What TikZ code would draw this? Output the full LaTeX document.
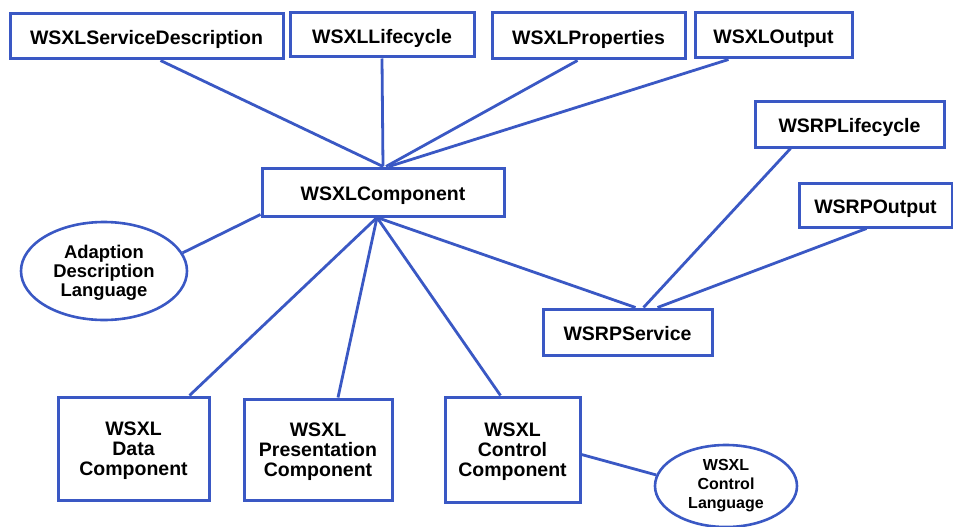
\documentclass[tikz,border=0pt]{standalone}
\usepackage{fontspec}
\setmainfont{Liberation Sans}
\usetikzlibrary{shapes.geometric}
\definecolor{linkblue}{RGB}{58,88,196}
\tikzset{
  x=1pt, y=-1pt,
  box/.style={draw=linkblue, line width=3pt, fill=white, rectangle, inner sep=0pt,
              align=center, font=\fontsize{19.5}{20}\selectfont\bfseries, text=black},
  onebox/.style={box, text height=19pt, text depth=2pt},
  tribox/.style={box, text depth=-2pt},
  oval/.style={draw=linkblue, line width=2.6pt, fill=white, ellipse, inner sep=0pt,
              align=center, text=black},
  link/.style={draw=linkblue, line width=2.8pt}
}
\begin{document}
\begin{tikzpicture}
\useasboundingbox (0,0) rectangle (953,527);

% nodes
\node[onebox, minimum width=273, minimum height=45] (sd)   at (146.5,36.5) {WSXLServiceDescription};
\node[onebox, minimum width=184, minimum height=44] (lc)   at (382,35)     {WSXLLifecycle};
\node[onebox, minimum width=193, minimum height=46] (prop) at (588.5,36)   {WSXLProperties};
\node[onebox, minimum width=157, minimum height=45] (out)  at (773.5,35.5) {WSXLOutput};
\node[onebox, minimum width=189, minimum height=46] (rlc)  at (849.5,124)  {WSRPLifecycle};
\node[onebox, minimum width=153, minimum height=44] (rout) at (875.5,205)  {WSRPOutput};
\node[onebox, minimum width=242, minimum height=48] (comp) at (383,192)    {WSXLComponent};
\node[onebox, minimum width=169, minimum height=46] (wsrp) at (627.5,332)  {WSRPService};
\node[tribox, minimum width=151, minimum height=103] (data) at (133.5,448.5) {WSXL\\Data\\Component};
\node[tribox, minimum width=148, minimum height=101] (pres) at (318,449.5)  {WSXL\\Presentation\\Component};
\node[tribox, minimum width=135, minimum height=105] (ctrl) at (512.5,449.5) {WSXL\\Control\\Component};
\node[oval, minimum width=166, minimum height=98, text depth=-3pt,
      font=\fontsize{18.4}{19}\selectfont\bfseries]
  (adl) at (104,271) {Adaption\\Description\\Language};
\node[oval, minimum width=142, minimum height=82, font=\fontsize{16}{19}\selectfont\bfseries]
  (cl)  at (726,486) {WSXL\\Control\\Language};

% links into the component box
\draw[link] ([xshift=14]sd.south)    -- (comp.north);
\draw[link] (lc.south)               -- (comp.north);
\draw[link] ([xshift=-11]prop.south) -- ([xshift=3]comp.north);
\draw[link] ([xshift=-45]out.south)  -- ([xshift=6]comp.north);
\draw[link] (adl.13)                 -- ([yshift=3]comp.south west);

% links out of the component box
\draw[link] ([xshift=-6]comp.south) -- ([xshift=56]data.north);
\draw[link] ([xshift=-6]comp.south) -- ([xshift=20]pres.north);
\draw[link] ([xshift=-6]comp.south) -- ([xshift=-12]ctrl.north);
\draw[link] ([xshift=-6]comp.south) -- ([xshift=8]wsrp.north);

% WSRP service links
\draw[link] ([xshift=-59]rlc.south) -- ([xshift=16]wsrp.north);
\draw[link] ([xshift=-9]rout.south) -- ([xshift=30]wsrp.north);

% control language
\draw[link] ([yshift=-5]ctrl.east) -- (cl.171);
\end{tikzpicture}
\end{document}
